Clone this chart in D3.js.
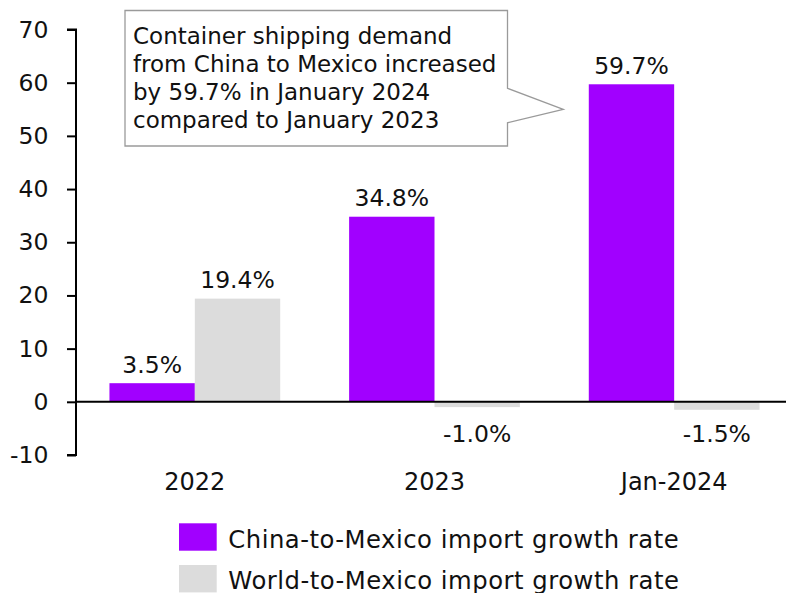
<!DOCTYPE html>
<html>
<head>
<meta charset="utf-8">
<script src="https://cdn.jsdelivr.net/npm/d3@7"></script>
<style>
  html, body { margin: 0; padding: 0; background: #fff; }
  svg { display: block; font-family: "DejaVu Sans", "Noto Sans", sans-serif; }
</style>
</head>
<body>
<svg id="chart" width="786" height="593"></svg>
<script>
// Import growth rates to Mexico (%)
const categories = ["2022", "2023", "Jan-2024"];
const seriesNames = ["China-to-Mexico import growth rate", "World-to-Mexico import growth rate"];
const chinaValues = [3.5, 34.8, 59.7];
const worldValues = [19.4, -1.0, -1.5];
const yTicks = [-10, 0, 10, 20, 30, 40, 50, 60, 70];
const calloutLines = [
  "Container shipping demand",
  "from China to Mexico increased",
  "by 59.7% in January 2024",
  "compared to January 2023"
];
const colors = ["#A100FF", "#DCDCDC"];

const svg = d3.select("#chart");
const textColor = "#111";
const fontFamily = "'DejaVu Sans', 'Noto Sans', sans-serif";

const x0 = d3.scaleBand()
  .domain(categories)
  .range([75, 794])
  .paddingInner(0.2875)
  .paddingOuter(0.14375);

const x1 = d3.scaleBand()
  .domain([0, 1])
  .range([0, x0.bandwidth()]);

const y = d3.scaleLinear()
  .domain([-10, 70])
  .range([455, 29.5]);

const rows = categories.map((c, i) => ({ cat: c, values: [chinaValues[i], worldValues[i]] }));

// Bars
const groups = svg.append("g").selectAll("g")
  .data(rows).join("g")
  .attr("transform", d => `translate(${x0(d.cat)},0)`);

groups.selectAll("rect")
  .data(d => d.values.map((v, s) => ({ v, s })))
  .join("rect")
  .attr("x", d => x1(d.s))
  .attr("width", x1.bandwidth())
  .attr("y", d => y(Math.max(0, d.v)))
  .attr("height", d => Math.abs(y(d.v) - y(0)))
  .attr("fill", d => colors[d.s]);

// Value labels
groups.selectAll("text.val")
  .data(d => d.values.map((v, s) => ({ v, s })))
  .join("text")
  .attr("class", "val")
  .attr("x", d => x1(d.s) + x1.bandwidth() / 2)
  .attr("y", d => d.v >= 0 ? y(d.v) - 10.5 : y(0) + 40)
  .attr("text-anchor", "middle")
  .attr("font-size", 23.5)
  .attr("fill", textColor)
  .text(d => d.v.toFixed(1) + "%");

// Y axis (plain hyphen for negative numbers)
const yAxis = d3.axisLeft(y)
  .tickValues(yTicks)
  .tickSize(9)
  .tickPadding(18.5)
  .tickFormat(d => String(d));

const yg = svg.append("g")
  .attr("transform", "translate(76,0)")
  .call(yAxis);
yg.select(".domain").attr("stroke", "#000").attr("stroke-width", 2)
  .attr("d", `M-9,${y(70)}H0V${y(-10)}H-9`);
yg.selectAll(".tick line").attr("stroke", "#000").attr("stroke-width", 2);
yg.selectAll(".tick text")
  .attr("font-size", 23.5)
  .attr("font-family", fontFamily)
  .attr("fill", textColor);

// Zero baseline
svg.append("line")
  .attr("x1", 75).attr("x2", 794)
  .attr("y1", y(0)).attr("y2", y(0))
  .attr("stroke", "#000").attr("stroke-width", 2);

// Category labels
svg.append("g").selectAll("text")
  .data(categories).join("text")
  .attr("x", d => x0(d) + x0.bandwidth() / 2)
  .attr("y", 489.5)
  .attr("text-anchor", "middle")
  .attr("font-size", 24)
  .attr("fill", textColor)
  .text(d => d);

// Callout box pointing at the latest China bar
const tipX = x0("Jan-2024") + x1(0) - 25.5;
const tipY = y(55);
const bx0 = 125, bx1 = 507.5, by0 = 10.5, by1 = 146;
svg.append("path")
  .attr("d", `M${bx0},${by0}H${bx1}V${tipY - 21}L${tipX},${tipY}L${bx1},${tipY + 13.5}V${by1}H${bx0}Z`)
  .attr("fill", "#fff")
  .attr("stroke", "#9a9a9a")
  .attr("stroke-width", 1.3);

svg.append("g").selectAll("text")
  .data(calloutLines).join("text")
  .attr("x", 133)
  .attr("y", (d, i) => 43.5 + i * 28.2)
  .attr("font-size", 23)
  .attr("fill", textColor)
  .text(d => d);

// Legend
const legend = svg.append("g").selectAll("g")
  .data(seriesNames).join("g")
  .attr("transform", (d, i) => `translate(179,${523.3 + i * 41.7})`);
legend.append("rect")
  .attr("width", 37.7).attr("height", 27.4)
  .attr("fill", (d, i) => colors[i]);
legend.append("text")
  .attr("x", 49.3).attr("y", 24.4)
  .attr("font-size", 24.3)
  .attr("letter-spacing", 0.5)
  .attr("fill", textColor)
  .text(d => d);
</script>
</body>
</html>
